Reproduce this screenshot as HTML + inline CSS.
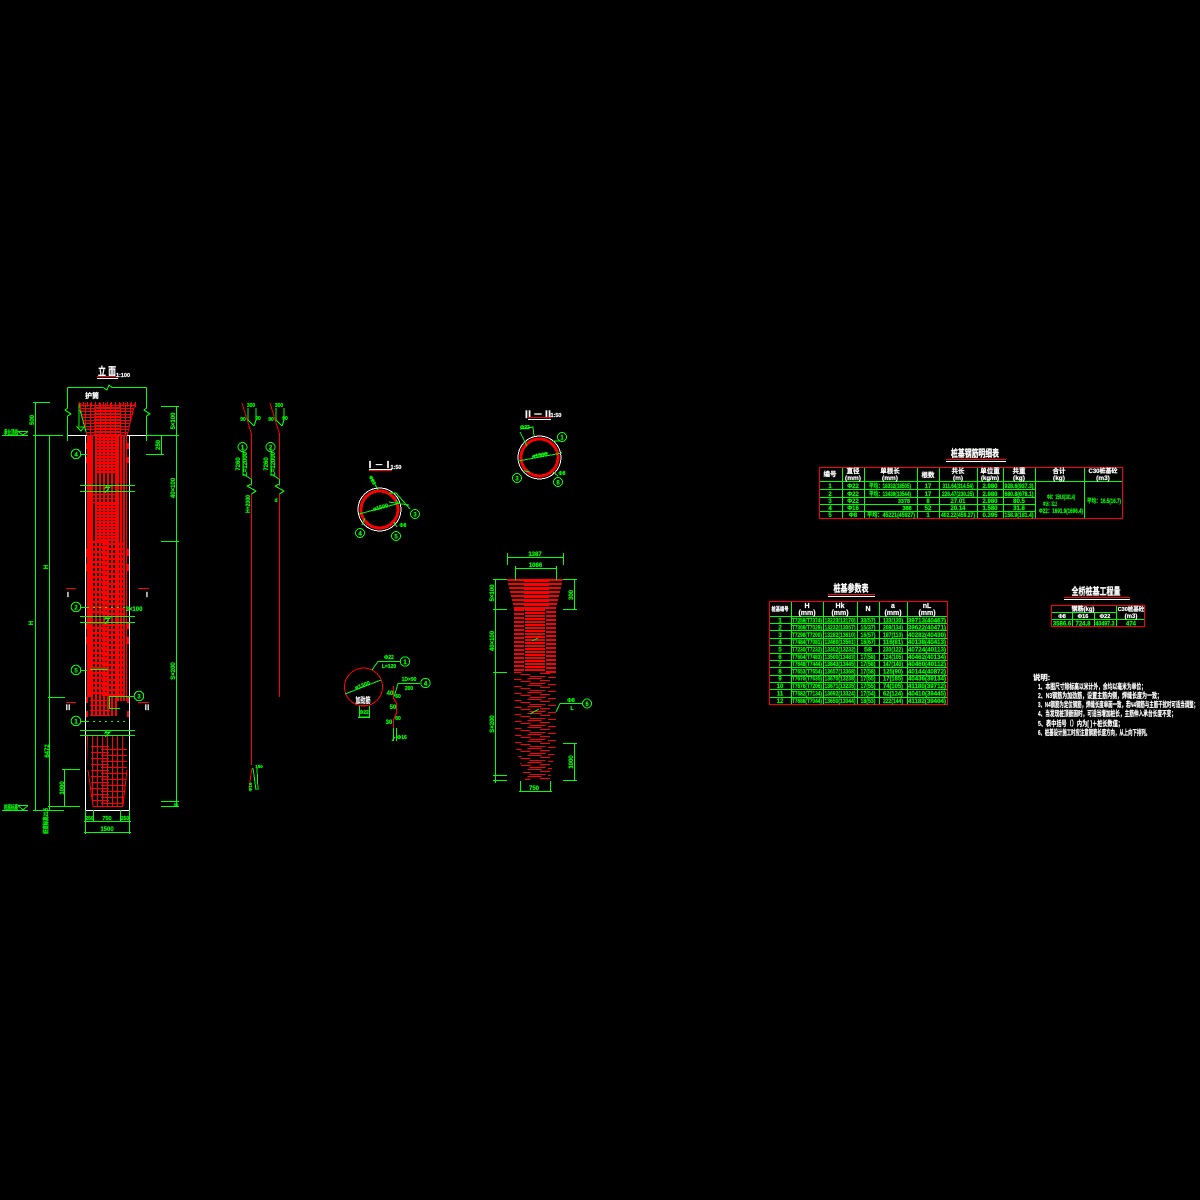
<!DOCTYPE html>
<html><head><meta charset="utf-8"><style>
html,body{margin:0;padding:0;background:#000}
svg{display:block;shape-rendering:crispEdges}
text{font-family:"Liberation Sans","Noto Sans CJK SC",sans-serif;font-weight:bold}
.g{fill:#0f0;font-size:6px;text-anchor:middle;stroke:#0f0;stroke-width:.2}
.w{fill:#fff;font-size:7px;text-anchor:middle;stroke:#fff;stroke-width:.2}
.t{fill:#fff;font-size:10px;text-anchor:middle;stroke:#fff;stroke-width:.3}
.n{fill:#fff;font-size:7.4px;stroke:#fff;stroke-width:.2}
.gl{stroke:#0f0;fill:none;stroke-width:1}
.rl{stroke:#f00;fill:none;stroke-width:1}
.wl{stroke:#fff;fill:none;stroke-width:1}
circle.c{stroke:#0f0;fill:none;stroke-width:1}
</style></head><body>
<svg xmlns="http://www.w3.org/2000/svg" width="1200" height="1200" viewBox="0 0 1200 1200">
<defs>
<pattern id="pg" width="5" height="3" patternUnits="userSpaceOnUse"><path d="M0 .5H5M.5 0V3" stroke="#f00" fill="none"/></pattern>
<clipPath id="cb"><polygon points="87,736 127,736 127,770 123,807 93,807 88,770"/></clipPath>
<clipPath id="ct"><polygon points="507,579 563,579 556,609 514,609"/></clipPath>
<clipPath id="cl"><polygon points="514,672 556,672 556,745 550,781 525,781 515,745"/></clipPath>
</defs>

<!-- elevation rebar -->
<g stroke="#f00" fill="none">
<polygon points="79,403 135,403 127,436 87,436" fill="url(#pg)" stroke="none"/>
<path d="M79 404.500H136" stroke-width="5" stroke-dasharray="1 3"/>
<path d="M107 407V435" stroke-width="26" stroke-dasharray="2 1"/>
<path d="M79 403L87 436M135 403L127 436"/>
<path d="M91 575.500H117" stroke-width="281" stroke-dasharray="2 2"/>
<path d="M117 568H127" stroke-width="266" stroke-dasharray="2 1"/>
<path d="M107 435V474" stroke-width="20" stroke-dasharray="2 1"/>
<path d="M107 503V541" stroke-width="20" stroke-dasharray="2 1"/>
<path d="M99 541V616" stroke-width="16" stroke-dasharray="2 3"/>
<path d="M113 543V616" stroke-width="22" stroke-dasharray="2 3"/>
<path d="M99 622V697" stroke-width="16" stroke-dasharray="2 3"/>
<path d="M113 624V697" stroke-width="22" stroke-dasharray="2 3"/>
<path d="M101 494V503" stroke-width="28" stroke-dasharray="1 3"/>
<path d="M100 700V716" stroke-width="20" stroke-dasharray="1 4"/>
<g clip-path="url(#cb)">
<path d="M87 771.500H128" stroke-width="71" stroke-dasharray="1 4"/>
<path d="M100 746V807" stroke-width="18" stroke-dasharray="1 5"/>
<path d="M114 749V807" stroke-width="26" stroke-dasharray="1 5"/>
</g>
<path d="M93 806.500H122"/>
<path d="M88 770L93 806M127 770L123 806"/>
</g>
<rect x="87" y="435" width="4" height="262" fill="#f00"/>
<path fill="#f00" d="M86 443h2v6h-2zM86 457h2v6h-2zM127 443h2v6h-2zM127 457h2v6h-2zM86 549h2v8h-2zM86 564h2v7h-2zM127 549h2v7h-2zM127 564h2v7h-2zM86 622h2v7h-2zM86 637h2v7h-2zM127 622h2v7h-2zM127 637h2v7h-2zM86 697h2v6h-2zM86 711h2v6h-2zM127 697h2v6h-2zM127 711h2v6h-2z"/>

<!-- elevation -->
<path class="wl" d="M68 435.500H87M127 435.500H146M85.500 435V810.500M129.500 435V810.500M85 810.500H130"/>
<path class="gl" d="M35.500 402V811M49.500 435V811M176.500 406V806M33 402.500H50M33 435.500H63M161 406.500H179M146 435.500H179M161 541.500H179M161 801.500H179M161 806.500H179M33 810.500H64M48 697.500H65M161.500 435V454M146 454.500H164
M67.500 387.500H103L107 390L109 385L112 387.500H146.500M67.500 387.500V408L65 410L71 414L67.500 416V441M146.500 387.500V408L144 410L150 414L146.500 416V441
M80 485.500H135M80 491.500H135M80 616.500H135M80 622.500H135M80 730.500H135M80 735.500H135
M107 486L105 488L110 487L105 493M107 616L105 619L110 618L105 624M107 730L105 733L110 732L105 737
M64.500 769V806M62 769.500H80M48 806.500H80
M85.500 810V821M93.500 810V821M120.500 810V821M129.500 810V821M84 821.500H131M84 832.500H131M85.500 821V834M129.500 821V834
M2 435.500H28M18 431.500L23 435L28 431.500M18 431.500H28M2 810.500H28M18 805.500L23 810L28 805.500M18 805.500H28
M81 454.500H87M81 607.500H87M81 670.500H87M81 721.500H87M127 696.500H134M79 404V426M84 427L81 431L77 427H84M80 410L86 432
M90 669.500H108M109.500 696V708M109 696.500H127M109 708.500H120"/>
<path class="gl" d="M87 607.500H125M87 721.500H125" stroke-dasharray="2 4"/>
<circle class="c" cx="76" cy="454" r="4.800"/><circle class="c" cx="76" cy="607" r="4.800"/><circle class="c" cx="76" cy="670" r="4.800"/><circle class="c" cx="139" cy="696" r="4.800"/><circle class="c" cx="76" cy="721" r="4.800"/>
<text class="g" x="76" y="456.500">4</text><text class="g" x="76" y="609.500">2</text><text class="g" x="76" y="672.500">5</text><text class="g" x="139" y="698.500">3</text><text class="g" x="76" y="723.500">1</text>
<text class="w" x="107" y="375" style="font-size:11px" textLength="18" lengthAdjust="spacingAndGlyphs">立 面</text>
<path stroke="#f00" d="M97 376.500H118"/><path stroke="#fff" d="M97 378.500H118"/>
<text class="w" x="123" y="377" style="font-size:5.500px">1:100</text>
<text class="w" x="92" y="398" style="font-size:7px">护筒</text>
<text class="g" x="11" y="434.500" style="font-size:6px" textLength="14" lengthAdjust="spacingAndGlyphs">承台顶线</text>
<text class="g" x="11" y="809.500" style="font-size:6px" textLength="14" lengthAdjust="spacingAndGlyphs">桩底标高</text>
<text class="g" transform="translate(34,420) rotate(-90)">500</text>
<text class="g" transform="translate(48,567) rotate(-90)">H</text>
<text class="g" transform="translate(33,623) rotate(-90)">H</text>
<text class="g" transform="translate(49,751) rotate(-90)">6472</text>
<text class="g" transform="translate(64,788) rotate(-90)">1000</text>
<text class="g" transform="translate(48,821) rotate(-90)" textLength="26" lengthAdjust="spacingAndGlyphs">桩底标高21.5</text>
<text class="g" transform="translate(175,421) rotate(-90)">5×100</text>
<text class="g" transform="translate(160,445) rotate(-90)">250</text>
<text class="g" transform="translate(175,488) rotate(-90)">40×100</text>
<text class="g" transform="translate(175,671) rotate(-90)">S×200</text>
<text class="g" x="134" y="611">3×100</text>
<text class="g" x="176" y="806" style="font-size:4px">50</text>
<text class="g" x="89.500" y="820" style="font-size:5px">250</text><text class="g" x="107" y="820" style="font-size:5.500px">750</text><text class="g" x="125" y="820" style="font-size:5px">250</text><text class="g" x="107" y="831">1500</text>
<path stroke="#f00" d="M66 588.500H76M138 588.500H149M66 702.500H76M138 702.500H149"/>
<text class="w" x="68" y="597" style="font-size:7px">I</text><text class="w" x="147" y="597" style="font-size:7px">I</text>
<text class="w" x="68" y="710" style="font-size:7px">Ⅱ</text><text class="w" x="147" y="710" style="font-size:7px">Ⅱ</text>

<!-- bars -->
<path class="rl" d="M242 403L251.500 434V486M251.500 494V765M270 403L279.500 434V486M279.500 494V697M249 788L252 768"/>
<path class="gl" d="M248 408V420L254 426M256 408V420L254 426M276 408V420L282 426M284 408V420L282 426M243 449V474L251 479M271 449V474L279 479M251.500 479V484L247 486L256 491L251.500 494M279.500 479V484L275 486L284 491L279.500 494M253 768L256 790M257 768L258 790"/>
<circle class="c" cx="242.500" cy="447" r="4.500"/><circle class="c" cx="270.500" cy="447" r="4.500"/>
<text class="g" x="242.500" y="449.500">1</text><text class="g" x="270.500" y="449.500">2</text>
<text class="g" x="251" y="407" style="font-size:5px">300</text><text class="g" x="279" y="407" style="font-size:5px">300</text>
<text class="g" x="243" y="421" style="font-size:5px">90</text><text class="g" x="271" y="421" style="font-size:5px">90</text>
<text class="g" x="258" y="420" style="font-size:5px">90</text><text class="g" x="285" y="420" style="font-size:5px">90</text>
<text class="g" transform="translate(240,464) rotate(-90)">7260</text><text class="g" transform="translate(268,464) rotate(-90)">7260</text>
<text class="g" transform="translate(247,464) rotate(-90)">L=12000</text><text class="g" transform="translate(275,464) rotate(-90)">L=12000</text>
<text class="g" transform="translate(250,504) rotate(-90)" textLength="18" lengthAdjust="spacingAndGlyphs">H+2000</text>
<text class="g" x="276" y="502" style="font-size:5px">d</text>
<text class="g" x="259" y="768" style="font-size:4.500px">150</text><text class="g" transform="translate(252,787) rotate(-90)" style="font-size:4.500px">Φ16</text>

<!-- section I -->
<text class="w" x="379" y="468" style="font-size:9px">Ⅰ－Ⅰ</text><text class="w" x="396" y="469" style="font-size:5.500px">1:50</text>
<path stroke="#fff" d="M369 469.500H392"/><path stroke="#f00" d="M369 470.500H392"/>
<circle cx="379.500" cy="509.500" r="21.500" fill="none" stroke="#fff"/>
<circle cx="379.500" cy="509.500" r="18.500" fill="none" stroke="#f00" stroke-width="3"/>
<path class="gl" d="M359 514L400 503M389 493L396 493L410 509M389 502L409 505M399 504L396 500M371 477L378 490M362 525L365 518M394 522L397 527"/>
<circle class="c" cx="415" cy="514" r="4.500"/><circle class="c" cx="360" cy="533" r="4.500"/><circle class="c" cx="396" cy="536" r="4.500"/>
<text class="g" x="415" y="516.500">3</text><text class="g" x="360" y="535.500">4</text><text class="g" x="396" y="538.500">5</text>
<text class="g" x="381" y="509" style="font-size:5.500px" transform="rotate(-15 381 509)">ø1500</text>
<text class="g" x="371" y="481" style="font-size:5px" transform="rotate(60 371 481)">Φ22</text>
<text class="g" x="403" y="527" style="font-size:5px">Φ8</text>

<!-- section II -->
<text class="w" x="538" y="418" style="font-size:10px">Ⅱ－Ⅱ</text><text class="w" x="556" y="417" style="font-size:5.500px">1:50</text>
<path stroke="#f00" d="M528 417.500H551"/><path stroke="#fff" d="M528 419.500H551"/>
<circle cx="539.500" cy="457.500" r="21.500" fill="none" stroke="#fff"/>
<circle cx="539.500" cy="457.500" r="18.500" fill="none" stroke="#f00" stroke-width="3"/>
<path class="gl" d="M518 461L562 453M553 441H561M520 432L527 446M533 456L548 453M524 471L530 472M553 472L558 476M520 429L533 427L534 436"/>
<circle class="c" cx="562" cy="437" r="4.500"/><circle class="c" cx="517" cy="478" r="4.500"/><circle class="c" cx="558" cy="482" r="4.500"/>
<text class="g" x="562" y="439.500">1</text><text class="g" x="517" y="480.500">3</text><text class="g" x="558" y="484.500">8</text>
<text class="g" x="540" y="457" style="font-size:5.500px" transform="rotate(-10 540 457)">ø1500</text>
<text class="g" x="525" y="429" style="font-size:5px">Φ22</text>
<text class="g" x="562" y="475" style="font-size:5px">Φ8</text>

<!-- spiral detail -->
<circle cx="363.500" cy="687" r="19" fill="none" stroke="#f00"/>
<path class="gl" d="M345 694L381 680M372 670L378 661.500H400M359.500 706V717H369.500V706M358 717.500H370M401 683.500H398L394 697"/>
<path class="rl" d="M359 705.500H368" stroke-width="2"/>
<circle class="c" cx="405" cy="661.500" r="4.700"/><circle class="c" cx="425.500" cy="683" r="4.700"/>
<text class="g" x="405" y="664">1</text><text class="g" x="425.500" y="685.500">4</text>
<path class="gl" d="M401 683.500H420"/>
<text class="g" x="389" y="659" style="font-size:5px">Φ22</text><text class="g" x="389" y="668" style="font-size:5px">L=120</text>
<text class="g" x="409" y="681" style="font-size:5px">1D×90</text><text class="g" x="409" y="690" style="font-size:5px">200</text>
<text class="g" x="363" y="687" style="font-size:5.500px" transform="rotate(-20 363 687)">ø1300</text>
<text class="w" x="363" y="703" style="font-size:8px" textLength="15" lengthAdjust="spacingAndGlyphs">加劲筋</text>
<text class="g" x="364" y="714" style="font-size:5px">Φ22</text>
<path stroke="#f00" fill="none" stroke-width="1.200" d="M393.500 686V698L396.500 703V713L393.500 720V728"/>
<path class="gl" d="M393.500 728V741M396.500 728V741M392 741L395 737"/>
<text class="g" x="390" y="695">40</text><text class="g" x="398" y="698" style="font-size:5px">60</text><text class="g" x="393" y="709">50</text><text class="g" x="398" y="720" style="font-size:5px">60</text><text class="g" x="389" y="724">30</text><text class="g" x="402" y="739" style="font-size:5px">Φ16</text>

<!-- wedge section rebar -->
<g stroke="#f00" fill="none">
<g clip-path="url(#ct)"><path d="M535 579V609" stroke-width="56" stroke-dasharray="2 2"/></g>
<path d="M536.500 579V609" stroke-width="25" stroke-dasharray="3 1"/>
<path d="M519 609V673" stroke-width="10" stroke-dasharray="2 2"/>
<path d="M551 611V673" stroke-width="10" stroke-dasharray="2 2"/>
<path d="M535 609V672" stroke-width="20" stroke-dasharray="2 1"/>
<g clip-path="url(#cl)">
<path d="M517.500 672V781" stroke-width="8" stroke-dasharray="1 6"/>
<path d="M525.500 674V781" stroke-width="10" stroke-dasharray="1 6"/>
<path d="M534.500 671V781" stroke-width="14" stroke-dasharray="1 6"/>
<path d="M537.500 676V781" stroke-width="16" stroke-dasharray="1 6"/>
<path d="M545 673V781" stroke-width="10" stroke-dasharray="1 6"/>
<path d="M552 677V781" stroke-width="8" stroke-dasharray="1 6"/>
</g>
</g>

<!-- wedge section -->
<path class="gl" d="M507 557.500H563.500M507.500 553V565M563.500 553V565M515 568.500H556M515.500 566V580M556.500 566V580
M495.500 579V783M493 579.500H507M493 609.500H507M493 672.500H507M493 775.500H507M493 780.500H507
M574.500 579V609M563 579.500H577M563 609.500H577M574.500 743V780M563 743.500H577M563 780.500H577
M520.500 781V791M550.500 781V791M519 791.500H552
M532 641L538 638M530 714L539 709M556 712L560 703.500H583"/>
<circle class="c" cx="587" cy="703.500" r="4.500"/><text class="g" x="587" y="706">6</text>
<text class="g" x="535" y="556">1387</text><text class="g" x="535.500" y="567">1086</text>
<text class="g" transform="translate(494,593) rotate(-90)">5×100</text>
<text class="g" transform="translate(494,641) rotate(-90)">40×100</text>
<text class="g" transform="translate(494,724) rotate(-90)">S×200</text>
<text class="g" transform="translate(573,595) rotate(-90)">300</text>
<text class="g" transform="translate(573,762) rotate(-90)">1000</text>
<text class="g" x="571" y="702" style="font-size:5.500px">Φ8</text>
<text class="g" x="572" y="710" style="font-size:5.500px">L</text>
<text class="g" x="534" y="790">750</text>

<!-- table 1 -->
<text class="t" x="975" y="457" textLength="48" lengthAdjust="spacingAndGlyphs">桩基钢筋明细表</text>
<path stroke="#f00" d="M946 459.500H1006"/><path stroke="#fff" d="M946 461.500H1006"/>
<path class="gl" d="M842.500 467V518M864.500 467V518M917.500 467V518M939.500 467V518M977.500 467V518M1003.500 467V518M1035.500 467V518M1084.500 467V518M819 481.500H1123M819 489.500H1035M819 497.500H1035M819 504.500H1035M819 511.500H1035"/>
<rect x="819.500" y="467.500" width="303" height="51" fill="none" stroke="#f00"/>
<g class="w" style="font-size:6px">
<text class="w" x="830" y="476" style="font-size:6.500px">编号</text>
<text class="w" x="853" y="473" style="font-size:6.500px">直径</text><text class="w" x="853" y="480" style="font-size:6.500px">(mm)</text>
<text class="w" x="890" y="473" style="font-size:6.500px">单根长</text><text class="w" x="890" y="480" style="font-size:6.500px">(mm)</text>
<text class="w" x="928" y="477" style="font-size:6.500px">根数</text>
<text class="w" x="958" y="473" style="font-size:6.500px">共长</text><text class="w" x="958" y="480" style="font-size:6.500px">(m)</text>
<text class="w" x="990" y="473" style="font-size:6.500px">单位重</text><text class="w" x="990" y="480" style="font-size:6px">(kg/m)</text>
<text class="w" x="1019" y="473" style="font-size:6.500px">共重</text><text class="w" x="1019" y="480" style="font-size:6.500px">(kg)</text>
<text class="w" x="1059" y="473" style="font-size:6.500px">合计</text><text class="w" x="1059" y="480" style="font-size:6.500px">(kg)</text>
<text class="w" x="1103" y="473" style="font-size:6px">C30桩基砼</text><text class="w" x="1103" y="480" style="font-size:6.500px">(m3)</text>
</g>
<text class="g" x="830" y="488">1</text><text class="g" x="853" y="488">Φ22</text><text class="g" x="890" y="488" textLength="42" lengthAdjust="spacingAndGlyphs">平均：18332(18505)</text><text class="g" x="928" y="488">17</text><text class="g" x="958" y="488" textLength="31" lengthAdjust="spacingAndGlyphs">311.64(314.54)</text><text class="g" x="990" y="488">2.980</text><text class="g" x="1019" y="488" textLength="29" lengthAdjust="spacingAndGlyphs">928.6(937.3)</text>
<text class="g" x="830" y="496">2</text><text class="g" x="853" y="496">Φ22</text><text class="g" x="890" y="496" textLength="42" lengthAdjust="spacingAndGlyphs">平均：13439(13544)</text><text class="g" x="928" y="496">17</text><text class="g" x="958" y="496" textLength="32" lengthAdjust="spacingAndGlyphs">228.47(230.25)</text><text class="g" x="990" y="496">2.980</text><text class="g" x="1019" y="496" textLength="29" lengthAdjust="spacingAndGlyphs">680.8(678.1)</text>
<text class="g" x="830" y="503">3</text><text class="g" x="853" y="503">Φ22</text><text class="g" x="904" y="503" style="font-size:5.500px">3378</text><text class="g" x="928" y="503">8</text><text class="g" x="958" y="503">27.01</text><text class="g" x="990" y="503">2.980</text><text class="g" x="1019" y="503">80.5</text>
<text class="g" x="830" y="510">4</text><text class="g" x="853" y="510">Φ16</text><text class="g" x="907" y="510" style="font-size:5.500px">388</text><text class="g" x="928" y="510">52</text><text class="g" x="958" y="510">20.14</text><text class="g" x="990" y="510">1.580</text><text class="g" x="1019" y="510">31.8</text>
<text class="g" x="830" y="517">5</text><text class="g" x="853" y="517">Φ8</text><text class="g" x="891" y="517" textLength="48" lengthAdjust="spacingAndGlyphs">平均：45221(45927)</text><text class="g" x="928" y="517">1</text><text class="g" x="958" y="517" textLength="34" lengthAdjust="spacingAndGlyphs">402.22(459.27)</text><text class="g" x="990" y="517">0.395</text><text class="g" x="1019" y="517" textLength="29" lengthAdjust="spacingAndGlyphs">158.9(181.4)</text>
<text class="g" x="1061" y="499" textLength="28" lengthAdjust="spacingAndGlyphs">Φ8：159.0(181.4)</text><text class="g" x="1050" y="506" textLength="14" lengthAdjust="spacingAndGlyphs">Φ16：32.2</text><text class="g" x="1061" y="513" textLength="44" lengthAdjust="spacingAndGlyphs">Φ22：1691.9(1696.4)</text>
<text class="g" x="1104" y="503" textLength="34" lengthAdjust="spacingAndGlyphs">平均：16.5(16.7)</text>

<!-- table 2 -->
<text class="t" x="851" y="592" textLength="35" lengthAdjust="spacingAndGlyphs">桩基参数表</text>
<path stroke="#f00" d="M828 594.500H875"/><path stroke="#fff" d="M828 596.500H875"/>
<path class="gl" d="M791.500 601V704M823.500 601V704M857.500 601V704M879.500 601V704M907.500 601V704M769 616.500H948M769 623.500H948M769 630.500H948M769 638.500H948M769 645.500H948M769 653.500H948M769 660.500H948M769 667.500H948M769 675.500H948M769 682.500H948M769 689.500H948M769 697.500H948"/>
<rect x="769.500" y="601.500" width="178" height="103" fill="none" stroke="#f00"/>
<text class="w" x="780" y="611" style="font-size:5.500px" textLength="17" lengthAdjust="spacingAndGlyphs">桩基编号</text>
<text class="w" x="807" y="608">H</text><text class="w" x="807" y="615">(mm)</text>
<text class="w" x="840" y="608">Hk</text><text class="w" x="840" y="615">(mm)</text>
<text class="w" x="868" y="611">N</text>
<text class="w" x="893" y="608">a</text><text class="w" x="893" y="615">(mm)</text>
<text class="w" x="927" y="608">nL</text><text class="w" x="927" y="615">(mm)</text>
<g>
<text class="g" x="780" y="622.500">1</text><text class="g" x="807" y="622.500" textLength="30" lengthAdjust="spacingAndGlyphs">T7258(T7374)</text><text class="g" x="840" y="622.500" textLength="31" lengthAdjust="spacingAndGlyphs">13223(13170)</text><text class="g" x="868" y="622.500" textLength="15" lengthAdjust="spacingAndGlyphs">33(57)</text><text class="g" x="893" y="622.500" textLength="20" lengthAdjust="spacingAndGlyphs">133(130)</text><text class="g" x="927" y="622.500" textLength="38" lengthAdjust="spacingAndGlyphs">39713(40467)</text>
<text class="g" x="780" y="629.500">2</text><text class="g" x="807" y="629.500" textLength="30" lengthAdjust="spacingAndGlyphs">T7308(T7029)</text><text class="g" x="840" y="629.500" textLength="31" lengthAdjust="spacingAndGlyphs">13232(13057)</text><text class="g" x="868" y="629.500" textLength="15" lengthAdjust="spacingAndGlyphs">15(37)</text><text class="g" x="893" y="629.500" textLength="20" lengthAdjust="spacingAndGlyphs">208(134)</text><text class="g" x="927" y="629.500" textLength="38" lengthAdjust="spacingAndGlyphs">39622(40471)</text>
<text class="g" x="780" y="637">3</text><text class="g" x="807" y="637" textLength="30" lengthAdjust="spacingAndGlyphs">T7298(T7200)</text><text class="g" x="840" y="637" textLength="31" lengthAdjust="spacingAndGlyphs">13282(13610)</text><text class="g" x="868" y="637" textLength="15" lengthAdjust="spacingAndGlyphs">16(57)</text><text class="g" x="893" y="637" textLength="20" lengthAdjust="spacingAndGlyphs">187(110)</text><text class="g" x="927" y="637" textLength="38" lengthAdjust="spacingAndGlyphs">40282(40430)</text>
<text class="g" x="780" y="644">4</text><text class="g" x="807" y="644" textLength="30" lengthAdjust="spacingAndGlyphs">T7484(T7081)</text><text class="g" x="840" y="644" textLength="31" lengthAdjust="spacingAndGlyphs">13460(13561)</text><text class="g" x="868" y="644" textLength="15" lengthAdjust="spacingAndGlyphs">16(67)</text><text class="g" x="893" y="644" textLength="20" lengthAdjust="spacingAndGlyphs">116(81)</text><text class="g" x="927" y="644" textLength="38" lengthAdjust="spacingAndGlyphs">40138(40413)</text>
<text class="g" x="780" y="651.500">5</text><text class="g" x="807" y="651.500" textLength="30" lengthAdjust="spacingAndGlyphs">T7230(T7232)</text><text class="g" x="840" y="651.500" textLength="31" lengthAdjust="spacingAndGlyphs">13302(13232)</text><text class="g" x="868" y="651.500" textLength="8" lengthAdjust="spacingAndGlyphs">58</text><text class="g" x="893" y="651.500" textLength="20" lengthAdjust="spacingAndGlyphs">230(122)</text><text class="g" x="927" y="651.500" textLength="38" lengthAdjust="spacingAndGlyphs">40724(40113)</text>
<text class="g" x="780" y="659">6</text><text class="g" x="807" y="659" textLength="30" lengthAdjust="spacingAndGlyphs">T7604(T7483)</text><text class="g" x="840" y="659" textLength="31" lengthAdjust="spacingAndGlyphs">13500(13483)</text><text class="g" x="868" y="659" textLength="15" lengthAdjust="spacingAndGlyphs">17(58)</text><text class="g" x="893" y="659" textLength="20" lengthAdjust="spacingAndGlyphs">124(105)</text><text class="g" x="927" y="659" textLength="38" lengthAdjust="spacingAndGlyphs">40462(40134)</text>
<text class="g" x="780" y="666">7</text><text class="g" x="807" y="666" textLength="30" lengthAdjust="spacingAndGlyphs">T7648(T7444)</text><text class="g" x="840" y="666" textLength="31" lengthAdjust="spacingAndGlyphs">13843(13445)</text><text class="g" x="868" y="666" textLength="15" lengthAdjust="spacingAndGlyphs">17(58)</text><text class="g" x="893" y="666" textLength="20" lengthAdjust="spacingAndGlyphs">147(140)</text><text class="g" x="927" y="666" textLength="38" lengthAdjust="spacingAndGlyphs">40460(40112)</text>
<text class="g" x="780" y="673.500">8</text><text class="g" x="807" y="673.500" textLength="30" lengthAdjust="spacingAndGlyphs">T7653(T7654)</text><text class="g" x="840" y="673.500" textLength="31" lengthAdjust="spacingAndGlyphs">13657(13368)</text><text class="g" x="868" y="673.500" textLength="15" lengthAdjust="spacingAndGlyphs">17(58)</text><text class="g" x="893" y="673.500" textLength="20" lengthAdjust="spacingAndGlyphs">125(90)</text><text class="g" x="927" y="673.500" textLength="38" lengthAdjust="spacingAndGlyphs">40144(40872)</text>
<text class="g" x="780" y="680.500">9</text><text class="g" x="807" y="680.500" textLength="30" lengthAdjust="spacingAndGlyphs">T7670(T7635)</text><text class="g" x="840" y="680.500" textLength="31" lengthAdjust="spacingAndGlyphs">13670(13238)</text><text class="g" x="868" y="680.500" textLength="15" lengthAdjust="spacingAndGlyphs">17(55)</text><text class="g" x="893" y="680.500" textLength="20" lengthAdjust="spacingAndGlyphs">17(185)</text><text class="g" x="927" y="680.500" textLength="38" lengthAdjust="spacingAndGlyphs">40436(39134)</text>
<text class="g" x="780" y="688">10</text><text class="g" x="807" y="688" textLength="30" lengthAdjust="spacingAndGlyphs">T7676(T7206)</text><text class="g" x="840" y="688" textLength="31" lengthAdjust="spacingAndGlyphs">13671(13235)</text><text class="g" x="868" y="688" textLength="15" lengthAdjust="spacingAndGlyphs">17(55)</text><text class="g" x="893" y="688" textLength="20" lengthAdjust="spacingAndGlyphs">74(105)</text><text class="g" x="927" y="688" textLength="38" lengthAdjust="spacingAndGlyphs">41180(39712)</text>
<text class="g" x="780" y="695.500">11</text><text class="g" x="807" y="695.500" textLength="30" lengthAdjust="spacingAndGlyphs">T7682(T7134)</text><text class="g" x="840" y="695.500" textLength="31" lengthAdjust="spacingAndGlyphs">13692(13324)</text><text class="g" x="868" y="695.500" textLength="15" lengthAdjust="spacingAndGlyphs">17(54)</text><text class="g" x="893" y="695.500" textLength="20" lengthAdjust="spacingAndGlyphs">62(124)</text><text class="g" x="927" y="695.500" textLength="38" lengthAdjust="spacingAndGlyphs">40410(39445)</text>
<text class="g" x="780" y="703">12</text><text class="g" x="807" y="703" textLength="30" lengthAdjust="spacingAndGlyphs">T7688(T7044)</text><text class="g" x="840" y="703" textLength="31" lengthAdjust="spacingAndGlyphs">13650(13044)</text><text class="g" x="868" y="703" textLength="15" lengthAdjust="spacingAndGlyphs">18(53)</text><text class="g" x="893" y="703" textLength="20" lengthAdjust="spacingAndGlyphs">222(144)</text><text class="g" x="927" y="703" textLength="38" lengthAdjust="spacingAndGlyphs">41182(39404)</text>
</g>

<!-- table 3 -->
<text class="t" x="1096" y="595" textLength="49" lengthAdjust="spacingAndGlyphs">全桥桩基工程量</text>
<path stroke="#f00" d="M1064 597.500H1130"/><path stroke="#fff" d="M1064 599.500H1130"/>
<path class="gl" d="M1051 612.500H1116M1051 619.500H1145M1072.500 612V627M1094.500 612V627M1116.500 605V627"/>
<rect x="1051.500" y="605.500" width="93" height="21" fill="none" stroke="#f00"/>
<text class="w" x="1083" y="611" style="font-size:6px">钢筋(kg)</text><text class="w" x="1131" y="611" style="font-size:5.500px">C30桩基砼</text><text class="w" x="1131" y="618" style="font-size:6px">(m3)</text>
<text class="w" x="1062" y="618" style="font-size:5.500px">Φ8</text><text class="w" x="1083" y="618" style="font-size:5.500px">Φ16</text><text class="w" x="1105" y="618" style="font-size:5.500px">Φ22</text>
<text class="g" x="1062" y="625.500">3586.6</text><text class="g" x="1083" y="625.500">724.8</text><text class="g" x="1105" y="625.500" textLength="19" lengthAdjust="spacingAndGlyphs">40497.3</text><text class="g" x="1131" y="625.500">474</text>

<!-- notes -->
<text class="n" x="1033" y="680">说明:</text>
<text class="n" x="1038" y="689" textLength="108" lengthAdjust="spacingAndGlyphs">1、本图尺寸除标高以米计外，余均以毫米为单位；</text>
<text class="n" x="1038" y="698" textLength="124" lengthAdjust="spacingAndGlyphs">2、N3钢筋为加劲筋，设置主筋内侧，焊缝长度为一致；</text>
<text class="n" x="1038" y="707" textLength="160" lengthAdjust="spacingAndGlyphs">3、N4钢筋为定位钢筋，焊缝长度单面一致，若N4钢筋与主筋干扰时可适当调整；</text>
<text class="n" x="1038" y="716" textLength="138" lengthAdjust="spacingAndGlyphs">4、当发现桩顶嵌固时，可适当增加桩长，主筋伸入承台长度不变；</text>
<text class="n" x="1038" y="726" textLength="85" lengthAdjust="spacingAndGlyphs">5、表中括号（）内为[ ]＋桩长数值；</text>
<text class="n" x="1038" y="735" textLength="112" lengthAdjust="spacingAndGlyphs">6、桩基设计施工时应注意钢筋长度方向，从上向下排列。</text>
</svg>
</body></html>
